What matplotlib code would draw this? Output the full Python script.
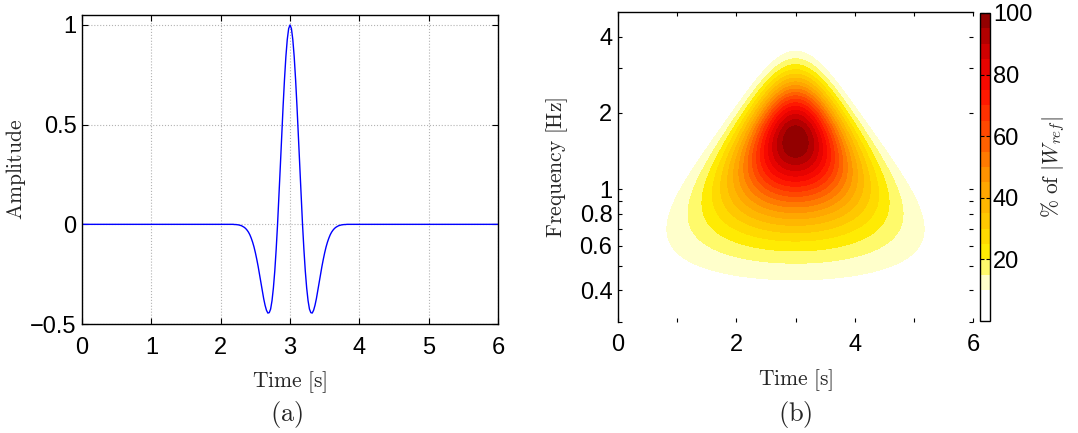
import numpy as np
import matplotlib
matplotlib.use('Agg')
import matplotlib.pyplot as plt
from matplotlib.colors import LinearSegmentedColormap
from matplotlib.ticker import FixedLocator, FixedFormatter, NullFormatter

plt.rcParams['font.family'] = ['Liberation Sans', 'DejaVu Sans']
plt.rcParams['mathtext.fontset'] = 'cm'

# (a) wavelet samples, every 0.02 s between 2.2 and 3.8 s
dt = 0.02
t = np.arange(301) * dt
pulse_right = [1.000, 0.982, 0.927, 0.841, 0.727, 0.593, 0.445, 0.292, 0.142, 0.000,
               -0.126, -0.234, -0.319, -0.383, -0.425, -0.443, -0.445, -0.431, -0.406, -0.373,
               -0.334, -0.292, -0.251, -0.211, -0.175, -0.142, -0.113, -0.089, -0.069, -0.052,
               -0.039, -0.029, -0.021, -0.015, -0.011, -0.007, -0.005, -0.003, -0.002, -0.001,
               -0.001]
# the pulse is symmetric about t = 3 s
pulse = pulse_right[:0:-1] + pulse_right
amp = np.concatenate([np.zeros(110), pulse, np.zeros(110)])

# (b) Morlet scalogram of the same signal
w0 = 6.0
freqs = np.geomspace(0.3, 5.0, 180)
levels = np.arange(0, 105, 5)

D = t[None, :] - t[:, None]
W = np.zeros((len(freqs), len(t)))
for i, f in enumerate(freqs):
    sig = w0 / (2 * np.pi * f)
    ker = np.exp(-D ** 2 / (2 * sig ** 2)) * np.exp(-2j * np.pi * f * D) / sig
    W[i] = np.abs(ker @ amp) * dt
W = 100 * W / W.max()

cmap = LinearSegmentedColormap.from_list('wyr', [
    (0.0, (1, 1, 1)), (0.1, (1, 1, 1)), (0.125, (1, 1, 0.8)),
    (0.175, (1, 0.98, 0.4)), (0.225, (1, 0.92, 0.0)), (0.45, (1, 0.62, 0.0)),
    (0.75, (1, 0.05, 0.0)), (0.85, (0.88, 0.0, 0.0)), (1.0, (0.52, 0.0, 0.0))])

fig = plt.figure(figsize=(10.78, 4.33), dpi=100)
ax1 = fig.add_axes([0.0761, 0.2517, 0.3859, 0.7136])
ax2 = fig.add_axes([0.5733, 0.2564, 0.3293, 0.716])
cax = fig.add_axes([0.9091, 0.2587, 0.0093, 0.7113])

tick_fs = 17
lab_fs = 15.5
lab_col = '0.15'

# ---- left panel
ax1.plot(t, amp, color='#0000ff', lw=1.0)
ax1.set_xlim(0, 6)
ax1.set_ylim(-0.5, 1.05)
ax1.set_xticks([0, 1, 2, 3, 4, 5, 6])
ax1.set_yticks([-0.5, 0, 0.5, 1])
ax1.set_yticklabels(['\u22120.5', '0', '0.5', '1'])
ax1.grid(True, ls=':', color='0.7', lw=0.8)
ax1.tick_params(direction='in', length=4, width=0.8, labelsize=tick_fs,
                top=True, right=True, pad=4)
ax1.tick_params(axis='x', pad=9)
for s in ax1.spines.values():
    s.set_linewidth(1.0)
ax1.set_xlabel(r'$\mathrm{Time\ [s]}$', fontsize=lab_fs, color=lab_col, labelpad=8)
ax1.set_ylabel(r'$\mathrm{Amplitude}$', fontsize=lab_fs, color=lab_col)
ax1.yaxis.set_label_coords(-0.13, 0.5)

# ---- right panel
cs = ax2.contourf(t, freqs, W, levels=levels, cmap=cmap)
ax2.set_yscale('log')
ax2.set_xlim(0, 6)
ax2.set_ylim(0.3, 5)
ax2.xaxis.set_major_locator(FixedLocator([0, 2, 4, 6]))
ax2.xaxis.set_minor_locator(FixedLocator([1, 3, 5]))
ax2.yaxis.set_major_locator(FixedLocator([0.4, 0.6, 0.8, 1, 2, 4]))
ax2.yaxis.set_major_formatter(FixedFormatter(['0.4', '0.6', '0.8', '1', '2', '4']))
ax2.yaxis.set_minor_locator(FixedLocator([0.3, 0.5, 0.7, 0.9, 3]))
ax2.yaxis.set_minor_formatter(NullFormatter())
ax2.tick_params(which='both', direction='in', length=3, width=0.8, labelsize=tick_fs,
                top=True, right=True, pad=4)
ax2.tick_params(axis='x', pad=9)
ax2.spines['right'].set_visible(False)
ax2.spines['bottom'].set_visible(False)
for s in ['left', 'top']:
    ax2.spines[s].set_linewidth(1.0)
ax2.set_xlabel(r'$\mathrm{Time\ [s]}$', fontsize=lab_fs, color=lab_col, labelpad=8)
ax2.set_ylabel(r'$\mathrm{Frequency\ [Hz]}$', fontsize=lab_fs, color=lab_col, labelpad=7)

cb = fig.colorbar(cs, cax=cax, ticks=[20, 40, 60, 80, 100])
cb.outline.set_linewidth(1.0)
cb.ax.tick_params(direction='in', length=3, width=0.8, labelsize=tick_fs, left=True, right=True, pad=2)
cb.set_label(r'$\%\ \mathrm{of}\ |W_{ref}|$', fontsize=lab_fs, color=lab_col, labelpad=5)

fig.text(0.266, 0.042, r'$\mathrm{(a)}$', fontsize=19, color=lab_col, ha='center', va='center')
fig.text(0.738, 0.042, r'$\mathrm{(b)}$', fontsize=19, color=lab_col, ha='center', va='center')

fig.savefig('out.png', dpi=100)
